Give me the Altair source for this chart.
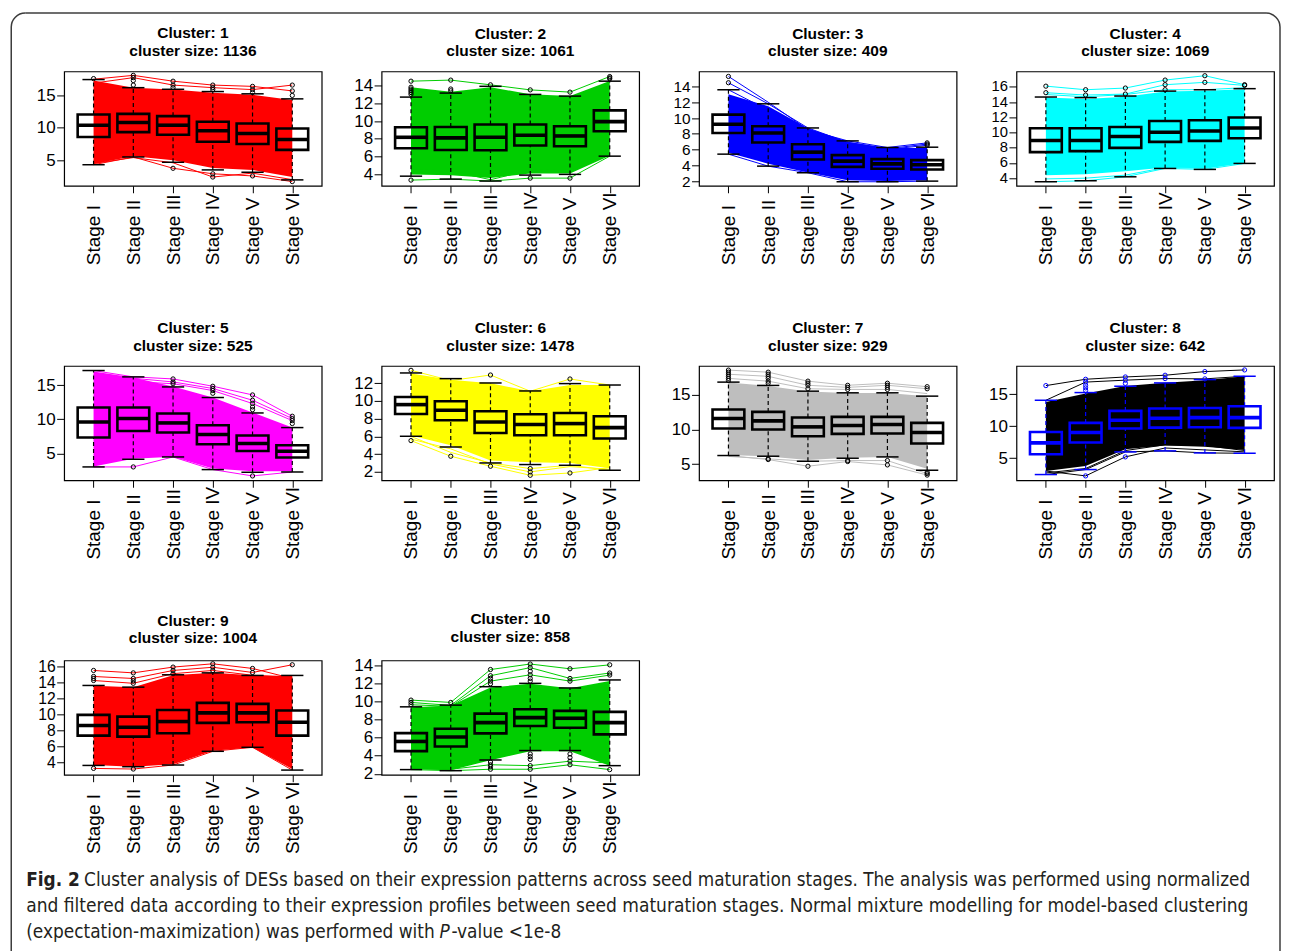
import math
import altair as alt
import pandas as pd

STAGES = ["Stage I", "Stage II", "Stage III", "Stage IV", "Stage V", "Stage VI"]
CLUSTERS = [1, 2, 3, 4, 5, 6, 7, 8, 9, 10]
SIZES = [1136, 1061, 409, 1069, 525, 1478, 929, 642, 1004, 858]
LINE_COLORS = ["#ff0000", "#00cd00", "#0000ff", "#00ffff", "#ff00ff",
               "#ffff00", "#bebebe", "#000000", "#ff0000", "#00cd00"]
BOX_COLORS = ["#000000"] * 7 + ["#0000ff"] + ["#000000"] * 2

Y_DOMAINS = [[1.05, 18.7], [2.72, 15.57], [1.41, 15.9], [3.0, 18.03], [1.07, 17.8],
             [1.06, 13.95], [2.65, 19.2], [1.56, 19.42], [2.5, 16.75], [1.89, 14.6]]
Y_TICKS = [[5, 10, 15], [4, 6, 8, 10, 12, 14], [2, 4, 6, 8, 10, 12, 14],
           [4, 6, 8, 10, 12, 14, 16], [5, 10, 15], [2, 4, 6, 8, 10, 12],
           [5, 10, 15], [5, 10, 15], [4, 6, 8, 10, 12, 14, 16], [2, 4, 6, 8, 10, 12, 14]]

Q3 = [[12.06, 12.15, 11.8, 10.93, 10.67, 9.9],
      [9.3, 9.33, 9.6, 9.6, 9.41, 11.2],
      [10.43, 8.95, 6.68, 5.29, 4.79, 4.66],
      [10.56, 10.56, 10.73, 11.52, 11.61, 11.97],
      [11.71, 11.71, 10.83, 9.12, 7.61, 6.19],
      [10.45, 9.97, 8.84, 8.5, 8.65, 8.28],
      [12.9, 12.55, 11.74, 11.83, 11.83, 10.96],
      [9.11, 10.52, 12.4, 12.76, 12.86, 13.13],
      [9.96, 9.75, 10.58, 11.46, 11.33, 10.5],
      [6.52, 7.01, 8.69, 9.18, 8.99, 8.88]]
MED = [[10.4, 10.83, 10.4, 9.55, 9.13, 8.2],
       [8.17, 8.1, 8.17, 8.4, 8.32, 9.93],
       [9.2, 8.1, 5.67, 4.53, 4.19, 4.07],
       [8.95, 8.95, 9.48, 10.04, 10.21, 10.6],
       [9.6, 10.1, 9.46, 7.76, 6.44, 5.31],
       [9.59, 8.95, 7.63, 7.34, 7.45, 7.0],
       [11.59, 11.25, 10.38, 10.58, 10.72, 9.57],
       [7.4, 9.01, 10.94, 11.25, 11.35, 11.35],
       [8.63, 8.42, 9.13, 10.21, 10.21, 9.04],
       [5.59, 6.08, 7.68, 8.24, 8.17, 7.68]]
Q1 = [[8.57, 9.34, 8.93, 7.85, 7.5, 6.6],
      [6.94, 6.75, 6.72, 7.24, 7.17, 8.85],
      [8.1, 6.9, 4.75, 3.81, 3.56, 3.48],
      [7.42, 7.55, 7.98, 8.77, 8.9, 9.25],
      [7.32, 8.29, 8.05, 6.34, 5.36, 4.39],
      [8.53, 7.82, 6.39, 6.13, 6.13, 5.76],
      [10.14, 10.0, 9.03, 9.36, 9.42, 7.97],
      [5.63, 7.45, 9.64, 9.79, 9.84, 9.74],
      [7.38, 7.25, 7.67, 8.96, 9.04, 7.38],
      [4.51, 5.03, 6.49, 7.31, 7.12, 6.38]]
WHI = [[17.45, 16.2, 15.95, 15.6, 15.25, 14.47],
       [12.69, 13.14, 13.9, 12.99, 12.8, 14.48],
       [13.58, 11.8, 8.74, 7.1, 6.26, 6.3],
       [14.67, 14.59, 14.8, 15.45, 15.63, 15.77],
       [17.13, 16.2, 14.73, 13.18, 10.92, 8.78],
       [13.16, 12.52, 12.03, 11.13, 11.96, 11.8],
       [16.86, 16.38, 15.55, 15.31, 15.31, 14.83],
       [14.06, 15.26, 16.25, 16.77, 17.29, 17.81],
       [13.63, 13.42, 14.96, 15.2, 14.88, 14.88],
       [9.44, 9.63, 11.68, 12.05, 11.54, 12.43]]
WLO = [[4.3, 5.5, 4.68, 3.5, 3.14, 1.96],
       [3.8, 3.47, 3.25, 3.92, 4.0, 6.05],
       [5.42, 3.9, 3.06, 1.92, 1.92, 2.0],
       [3.53, 3.66, 4.18, 5.28, 5.15, 5.94],
       [3.02, 4.14, 4.48, 2.63, 2.24, 2.28],
       [6.02, 4.81, 3.01, 2.83, 2.75, 2.19],
       [6.23, 6.13, 5.4, 5.84, 6.03, 4.1],
       [2.45, 3.23, 5.99, 6.15, 5.83, 5.78],
       [3.66, 3.5, 3.71, 5.42, 5.92, 3.08],
       [2.46, 2.34, 3.53, 4.58, 4.58, 2.9]]

# dense envelope of the profile lines
BAND_HI = [[17.3, 16.2, 15.9, 15.4, 15.1, 14.3],
           [13.8, 13.3, 13.8, 13.0, 12.8, 14.5],
           [13.0, 11.5, 8.7, 7.0, 6.2, 6.2],
           [14.6, 14.4, 14.7, 15.4, 15.5, 15.7],
           [17.0, 16.1, 14.8, 13.2, 11.0, 8.8],
           [13.1, 12.4, 12.0, 11.1, 11.8, 11.8],
           [16.8, 16.3, 15.5, 15.3, 15.3, 14.8],
           [13.8, 15.1, 16.3, 16.8, 17.2, 17.8],
           [13.6, 13.4, 14.9, 15.2, 14.9, 14.8],
           [9.4, 9.6, 11.6, 12.0, 11.5, 12.3]]
BAND_LO = [[4.4, 5.6, 5.0, 3.8, 3.5, 2.4],
           [4.0, 3.9, 3.6, 4.1, 4.1, 6.1],
           [5.6, 4.2, 3.1, 2.1, 2.0, 2.1],
           [4.4, 4.5, 4.9, 5.4, 5.3, 6.0],
           [3.1, 4.2, 4.5, 2.8, 2.4, 2.4],
           [6.1, 5.0, 3.3, 3.1, 3.0, 2.4],
           [6.3, 6.1, 5.6, 5.9, 6.0, 4.3],
           [3.0, 3.8, 6.4, 7.0, 6.8, 6.3],
           [3.7, 3.5, 3.8, 5.5, 5.9, 3.2],
           [2.5, 2.4, 3.5, 4.5, 4.5, 2.9]]

# sparse individual profiles outside the dense band
EXTRA_LINES = [
    [[17.5, 18.1, 17.2, 16.6, 16.4, 15.7], [16.9, 17.75, 16.6, 16.2, 15.9, 16.6],
     [4.3, 5.5, 3.75, 2.9, 2.57, 1.7], [4.5, 5.4, 4.6, 2.4, 3.0, 2.0]],
    [[14.48, 14.6, 14.07, 13.5, 13.25, 15.0], [3.36, 3.47, 3.25, 3.58, 3.58, 6.05],
     [4.5, 4.4, 3.4, 4.5, 4.4, 6.3]],
    [[15.27, 12.0, 8.5, 7.1, 6.26, 6.85], [14.47, 11.8, 8.74, 6.9, 6.1, 6.7],
     [13.58, 11.0, 8.0, 6.5, 6.0, 6.55], [5.42, 3.9, 3.06, 1.92, 1.92, 2.0],
     [6.0, 4.5, 3.5, 2.3, 2.2, 2.4]],
    [[16.1, 15.63, 15.85, 16.9, 17.47, 16.29], [15.24, 14.93, 15.06, 16.29, 16.6, 16.2],
     [15.0, 14.7, 15.0, 15.63, 15.63, 15.9], [3.53, 3.66, 4.18, 5.28, 5.15, 5.94],
     [3.9, 4.0, 4.4, 5.4, 5.3, 6.1]],
    [[17.13, 16.2, 15.9, 14.83, 13.56, 10.44], [16.5, 16.0, 15.46, 14.5, 12.78, 10.1],
     [16.0, 15.5, 15.2, 14.2, 12.3, 9.8], [3.02, 3.02, 4.48, 2.63, 1.7, 2.28]],
    [[13.46, 12.3, 12.93, 11.1, 12.48, 11.8], [5.53, 3.77, 2.64, 1.62, 1.88, 2.5],
     [5.7, 4.6, 2.9, 2.0, 2.6, 2.3], [6.0, 4.2, 3.0, 2.38, 2.75, 2.19]],
    [[18.6, 18.3, 17.0, 16.4, 16.7, 16.2], [18.0, 17.7, 16.4, 16.1, 16.4, 15.9],
     [17.4, 17.0, 15.9, 15.8, 15.8, 15.2], [6.23, 5.65, 4.68, 5.36, 4.87, 3.4],
     [6.1, 5.75, 5.4, 5.5, 5.5, 3.62]],
    [[16.35, 17.34, 17.7, 17.97, 18.54, 18.8], [14.06, 16.9, 17.2, 17.45, 17.4, 17.81],
     [2.45, 3.23, 5.99, 6.15, 5.83, 5.78], [3.0, 2.24, 5.21, 6.6, 6.3, 6.0],
     [2.7, 3.4, 6.2, 7.1, 7.0, 6.2]],
    [[15.5, 15.2, 15.92, 16.33, 15.75, 14.5], [14.75, 14.5, 15.5, 15.9, 15.25, 16.21],
     [14.25, 13.9, 15.1, 15.5, 14.9, 14.6], [3.29, 3.21, 3.71, 5.42, 5.92, 3.08]],
    [[10.19, 9.93, 13.59, 14.2, 13.67, 14.11], [9.93, 9.6, 12.9, 13.8, 12.6, 13.2],
     [9.67, 9.5, 12.3, 13.0, 12.3, 12.97], [2.46, 2.34, 2.5, 2.5, 3.0, 2.46],
     [2.6, 2.5, 3.0, 2.9, 3.4, 3.2]],
]

# outliers: per cluster, per stage
OUTLIERS = [
    [[17.6], [18.1, 17.75, 17.3, 16.6], [17.2, 16.6, 16.2, 3.75], [16.6, 16.2, 15.9, 2.9, 2.4],
     [16.4, 15.9, 15.45, 2.57], [16.6, 15.7, 15.0, 1.7]],
    [[14.48, 13.8, 13.6, 13.4, 13.2, 13.0, 3.36], [14.6, 13.6, 13.4], [14.07], [13.5, 3.58],
     [13.25, 3.58], [15.0, 14.85, 14.74]],
    [[15.27, 14.47], [], [], [], [], [6.85, 6.7, 6.55]],
    [[16.1, 15.24], [15.63, 14.93], [15.85, 15.06], [16.9, 16.29, 15.63], [17.47, 16.6],
     [16.29, 16.2]],
    [[], [3.02], [15.9, 15.46, 15.2], [14.83, 14.5, 14.2, 13.8],
     [13.56, 12.78, 12.3, 11.8, 11.4, 1.7], [10.44, 10.1, 9.8, 9.37]],
    [[13.46, 5.53], [3.77], [12.93, 2.64], [2.38, 2.0, 1.62], [12.48, 1.88], []],
    [[18.6, 18.3, 18.0, 17.7, 17.4, 17.1], [18.3, 18.0, 17.7, 17.4, 17.0, 16.7, 5.75, 5.65],
     [17.0, 16.7, 16.4, 15.9, 4.68], [16.4, 16.1, 15.8, 5.5, 5.36],
     [16.7, 16.4, 16.1, 15.8, 5.5, 4.87], [16.2, 15.9, 3.8, 3.62, 3.4]],
    [[16.35], [17.34, 16.9, 16.4, 16.0, 15.6, 2.24], [17.7, 17.2, 16.7, 5.21], [17.97, 17.45],
     [18.54, 17.4], [18.8]],
    [[15.5, 14.75, 14.5, 14.25, 3.29], [15.2, 14.5, 14.2, 13.9, 3.21], [15.92, 15.5, 15.1],
     [16.33, 15.9, 15.5], [15.75, 15.25], [16.21]],
    [[10.19, 9.93, 9.67], [9.93], [13.59, 12.9, 12.6, 12.3, 12.0, 3.3, 3.0, 2.8, 2.5],
     [14.2, 13.8, 13.4, 13.0, 12.6, 12.3, 4.2, 3.9, 3.6, 2.9, 2.5],
     [13.67, 12.6, 12.3, 4.2, 3.8, 3.4, 3.0], [14.11, 13.2, 12.97, 2.46]],
]

# caption pieces: (text, weight, style, font size)
CAPTION_PIECES = [
    ("Fig. 2", "bold", "normal", 18.9),
    ("Cluster analysis of DESs based on their expression patterns across seed maturation stages. The analysis was performed using normalized",
     "normal", "normal", 18.8),
    ("and filtered data according to their expression profiles between seed maturation stages. Normal mixture modelling for model-based clustering",
     "normal", "normal", 19.05),
    ("(expectation-maximization) was performed with", "normal", "normal", 18.9),
    ("P", "normal", "italic", 18.9),
    ("-value <1e-8", "normal", "normal", 18.9),
]
# caption anchor points, relative to the empty grid cell (row 3, column 3)
CAPTION_POS = [(-674, 220), (-616, 220), (-674, 246), (-674, 272), (-260, 272), (-248, 272)]

FONT = "Liberation Sans"
CAP_FONT = "'Liberation Sans Narrow', 'DejaVu Sans Condensed', 'Roboto Condensed', 'Liberation Sans', sans-serif"
CAP_COLOR = "#231f20"
FRAME_COLOR = "#3c3c3c"
W, H = 258, 114.5
IDX = [1, 2, 3, 4, 5, 6]
ONE = pd.DataFrame({"k": [0]})

# figure frame (relative to the empty grid cell)
FX0, FX1, FY0, FY1, FR = -689, 582, -648.5, 292, 14


def frame_cell():
    out = []
    sw = 1.5
    out.append(alt.Chart(ONE).mark_rule(color=FRAME_COLOR, strokeWidth=sw).encode(
        x=alt.value(FX0 + FR), x2=alt.value(FX1 - FR), y=alt.value(FY0)))
    out.append(alt.Chart(ONE).mark_rule(color=FRAME_COLOR, strokeWidth=sw).encode(
        x=alt.value(FX0), y=alt.value(FY0 + FR), y2=alt.value(FY1)))
    out.append(alt.Chart(ONE).mark_rule(color=FRAME_COLOR, strokeWidth=sw).encode(
        x=alt.value(FX1), y=alt.value(FY0 + FR), y2=alt.value(FY1)))
    out.append(alt.Chart(ONE).mark_arc(color=FRAME_COLOR, radius=FR + sw / 2,
                                       radius2=FR - sw / 2, theta=1.5 * math.pi,
                                       theta2=2 * math.pi).encode(
        x=alt.value(FX0 + FR), y=alt.value(FY0 + FR)))
    out.append(alt.Chart(ONE).mark_arc(color=FRAME_COLOR, radius=FR + sw / 2,
                                       radius2=FR - sw / 2, theta=0,
                                       theta2=0.5 * math.pi).encode(
        x=alt.value(FX1 - FR), y=alt.value(FY0 + FR)))
    for (txt, wt, st, fs), (px, py) in zip(CAPTION_PIECES, CAPTION_POS):
        out.append(alt.Chart(ONE).mark_text(
            align="left", baseline="middle", font=CAP_FONT, fontSize=fs, fontWeight=wt,
            fontStyle=st, color=CAP_COLOR, text=txt).encode(
            x=alt.value(px), y=alt.value(py)))
    return alt.layer(*out).properties(
        width=W, height=H, view=alt.ViewBackground(stroke="transparent"))


def make_panel(k):
    color = LINE_COLORS[k]
    bc = BOX_COLORS[k]
    xs = alt.Scale(domain=[0.26, 6.74], nice=False, zero=False)
    ys = alt.Scale(domain=Y_DOMAINS[k], nice=False, zero=False)
    # label size limited by the pixel gap between neighbouring y ticks
    ticks = Y_TICKS[k]
    gap = (ticks[1] - ticks[0]) * H / (Y_DOMAINS[k][1] - Y_DOMAINS[k][0])
    ylab = min(17.0, round(gap - 0.4, 1))
    label_expr = "[" + ",".join("'%s'" % s for s in STAGES) + "][datum.value - 1]"
    xaxis = alt.Axis(values=IDX, labelExpr=label_expr, labelAngle=270, labelAlign="left",
                     labelBaseline="middle", labelPadding=72, tickSize=7, tickWidth=1,
                     tickColor="black", labelFont=FONT, labelFontSize=19, labelColor="black",
                     domain=False, grid=False, labelOverlap=False, labelBound=False,
                     labelFlush=False, title=None)
    yaxis = alt.Axis(values=ticks, tickSize=7.5, tickWidth=1, tickColor="black",
                     labelFont=FONT, labelFontSize=ylab, labelColor="black", labelPadding=1.5,
                     domain=False, grid=False, labelOverlap=False, labelBound=False,
                     labelFlush=False, title=None)

    def X(f):
        return alt.X(f, scale=xs, axis=xaxis, title=None)

    def Y(f):
        return alt.Y(f, scale=ys, axis=yaxis, title=None)

    stats = pd.DataFrame({"idx": IDX, "q1": Q1[k], "med": MED[k], "q3": Q3[k],
                          "wlo": WLO[k], "whi": WHI[k], "blo": BAND_LO[k], "bhi": BAND_HI[k]})
    lines = pd.DataFrame([{"line": j, "idx": i + 1, "val": v}
                          for j, ln in enumerate(EXTRA_LINES[k]) for i, v in enumerate(ln)])
    whisk = pd.DataFrame([{"idx": i + 1, "y0": Q3[k][i], "y1": WHI[k][i]} for i in range(6)] +
                         [{"idx": i + 1, "y0": WLO[k][i], "y1": Q1[k][i]} for i in range(6)])
    caps = pd.DataFrame([{"idx": i + 1, "yv": WHI[k][i]} for i in range(6)] +
                        [{"idx": i + 1, "yv": WLO[k][i]} for i in range(6)])
    outs = pd.DataFrame([{"idx": i + 1, "val": v}
                         for i, vals in enumerate(OUTLIERS[k]) for v in vals])

    band = alt.Chart(stats).mark_area(color=color, opacity=1, clip=True).encode(
        x=X("idx:Q"), y=Y("blo:Q"), y2="bhi:Q")
    lns = alt.Chart(lines).mark_line(color=color, strokeWidth=1, clip=True).encode(
        x=X("idx:Q"), y=Y("val:Q"), detail="line:N")
    wh = alt.Chart(whisk).mark_rule(color=bc, strokeWidth=1.2, strokeDash=[4, 3]).encode(
        x=X("idx:Q"), y=Y("y0:Q"), y2="y1:Q")
    cp = alt.Chart(caps).transform_calculate(
        xl="datum.idx - 0.28", xr="datum.idx + 0.28").mark_rule(
        color=bc, strokeWidth=1.5).encode(x=X("xl:Q"), x2="xr:Q", y=Y("yv:Q"))
    box = alt.Chart(stats).transform_calculate(
        xl="datum.idx - 0.4", xr="datum.idx + 0.4").mark_rect(
        fill="transparent", stroke=bc, strokeWidth=2.6).encode(
        x=X("xl:Q"), x2="xr:Q", y=Y("q1:Q"), y2="q3:Q")
    med = alt.Chart(stats).transform_calculate(
        xl="datum.idx - 0.4", xr="datum.idx + 0.4").mark_rule(
        color=bc, strokeWidth=3.6).encode(x=X("xl:Q"), x2="xr:Q", y=Y("med:Q"))
    pts = alt.Chart(outs).mark_point(shape="circle", filled=False, color=bc, size=18,
                                     strokeWidth=1, opacity=1).encode(
        x=X("idx:Q"), y=Y("val:Q"))

    return alt.layer(band, lns, wh, cp, box, med, pts).properties(
        width=W, height=H,
        title=alt.TitleParams(text=["Cluster: %d" % CLUSTERS[k], "cluster size: %d" % SIZES[k]],
                              font=FONT, fontSize=15.5, fontWeight="bold", color="black",
                              anchor="middle", frame="group", offset=11.5, lineHeight=18),
        view=alt.ViewBackground(stroke="black", strokeWidth=1.2),
    )


cells = [make_panel(k) for k in range(10)] + [frame_cell()]
chart = alt.concat(*cells, columns=4, spacing={"row": 180, "column": 60},
                   bounds="flush").properties(
    padding={"left": 1.25, "top": 2.75, "right": 0, "bottom": 0},
    background="white")

chart.save("out.html", embed_options={"renderer": "svg", "actions": False})
